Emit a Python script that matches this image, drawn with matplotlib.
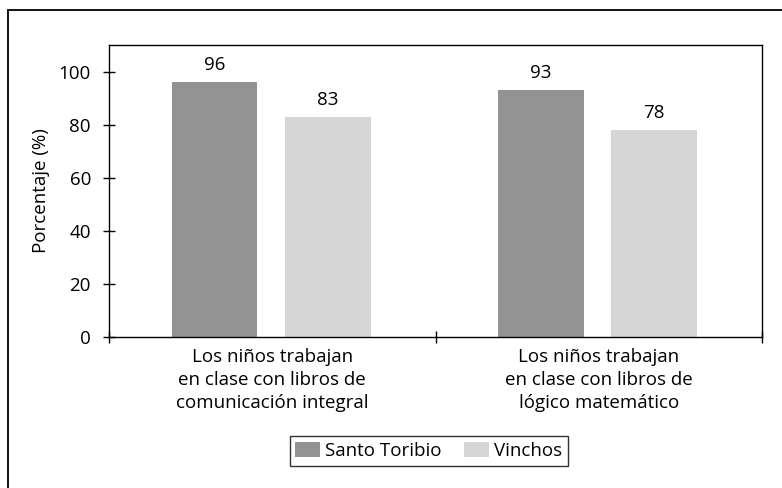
import numpy as np
import matplotlib.pyplot as plt
from matplotlib.patches import Rectangle

categories = ['Los niños trabajan\nen clase con libros de\ncomunicación integral',
              'Los niños trabajan\nen clase con libros de\nlógico matemático']
santo_toribio = [96, 93]
vinchos = [83, 78]

plt.rcParams['font.family'] = ['Open Sans', 'DejaVu Sans']
fs = 13.5

fig = plt.figure(figsize=(7.82, 4.88), dpi=100)
W, H = 782, 488
ax = fig.add_axes([109 / W, 1 - 337 / H, (762 - 109) / W, (337 - 45) / H])

x = np.arange(len(categories))
width = 0.262
b1 = ax.bar(x - 0.177, santo_toribio, width, color='#939393', label='Santo Toribio')
b2 = ax.bar(x + 0.17, vinchos, width, color='#d6d6d6', label='Vinchos')

for bars in (b1, b2):
    for rect in bars:
        ax.text(rect.get_x() + rect.get_width() / 2, rect.get_height() + 3,
                f'{rect.get_height():.0f}', ha='center', va='bottom', fontsize=fs)

ax.set_xlim(-0.5, 1.5)
ax.set_ylim(0, 110)
ax.set_yticks(range(0, 101, 20))
ax.set_xticks([-0.5, 0.5, 1.5])
ax.set_xticklabels([])
ax.set_xticks(x, minor=True)
ax.set_xticklabels(categories, minor=True, fontsize=fs, linespacing=1.36)
ax.tick_params(axis='x', which='minor', length=0, pad=8)
ax.tick_params(axis='x', which='major', direction='inout', length=8, width=1)
ax.tick_params(axis='y', direction='inout', length=8, width=1, labelsize=fs, pad=9)
ax.set_ylabel('Porcentaje (%)', fontsize=fs, labelpad=6)
for s in ax.spines.values():
    s.set_linewidth(1)

leg = fig.legend(loc='center', bbox_to_anchor=(429 / W, 1 - 451 / H), ncol=2,
                 frameon=True, fancybox=False, edgecolor='black', fontsize=fs,
                 handlelength=1.3, handleheight=0.8, columnspacing=1.2,
                 handletextpad=0.3, borderpad=0.3)
leg.get_frame().set_linewidth(1)

fig.patches.append(Rectangle((8 / W, -0.1), 1.1, 1 - 10 / H + 0.1, transform=fig.transFigure,
                             fill=False, edgecolor='black', linewidth=1.3))

fig.savefig('out.png', dpi=100)
